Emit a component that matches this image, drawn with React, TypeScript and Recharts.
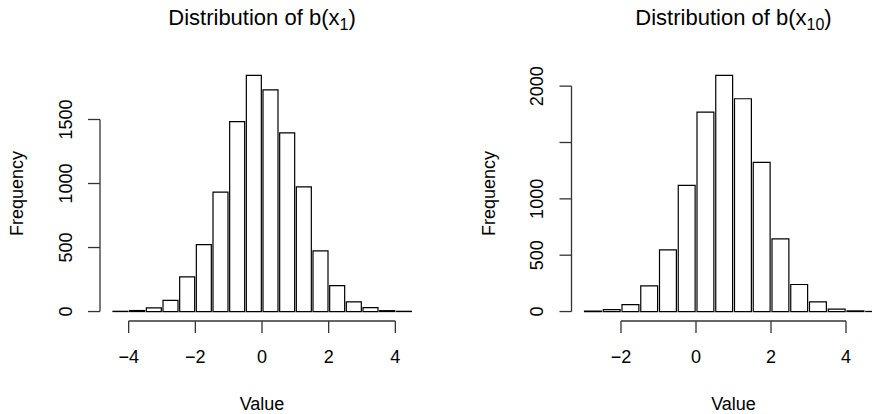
import { BarChart, Bar, XAxis, YAxis, ReferenceLine } from 'recharts'

// R 风格的直方图：白底黑框的柱子，坐标轴只画到首尾刻度
const FONT = '"Liberation Sans", Arial, Helvetica, sans-serif'

// 左图：b(x1) 的分布，每个柱子是 0.5 宽的桶，值是桶的左端点
const x1Bins = [-4.5, -4, -3.5, -3, -2.5, -2, -1.5, -1, -0.5, 0, 0.5, 1, 1.5, 2, 2.5, 3, 3.5, 4]
const x1Counts = [2, 8, 29, 88, 271, 523, 932, 1484, 1844, 1732, 1396, 974, 474, 203, 76, 31, 7, 2]
const x1XTicks = [-4, -2, 0, 2, 4]
const x1YTicks = [0, 500, 1000, 1500]
const x1YLabels = ['0', '500', '1000', '1500']

// 右图：b(x10) 的分布（1500 的刻度标签在 R 里被挤掉了；最右一个桶被图片边缘裁掉）
const x10Bins = [-3, -2.5, -2, -1.5, -1, -0.5, 0, 0.5, 1, 1.5, 2, 2.5, 3, 3.5, 4, 4.5]
const x10Counts = [4, 18, 62, 228, 547, 1119, 1769, 2095, 1888, 1323, 645, 240, 86, 21, 6, 1]
const x10XTicks = [-2, 0, 2, 4]
const x10YTicks = [0, 500, 1000, 1500, 2000]
const x10YLabels = ['0', '500', '1000', '', '2000']

const CHART_H = 414
const PLOT_TOP = 66
const XAXIS_H = 93
const TICK = 12

// R 用的是真正的减号
const fmt = (v: number) => String(v).replace('-', '\u2212')

interface HistProps {
  bins: number[]
  counts: number[]
  xTicks: number[]
  yTicks: number[]
  yLabels: string[]
  sub: string
  left: number
  width: number
  axisW: number
  rightGap: number
}

function Histogram({ bins, counts, xTicks, yTicks, yLabels, sub, left, width, axisW, rightGap }: HistProps) {
  const step = bins[1] - bins[0]
  const lo = bins[0]
  const hi = bins[bins.length - 1] + step
  // R 默认把坐标范围两边各扩 4%
  const padU = (hi - lo) * 0.04
  const xDomain: [number, number] = [lo - padU, hi + padU]
  const top = Math.max(...counts)
  const yDomain: [number, number] = [-top * 0.04, top * 1.04]
  const plotW = width - axisW - rightGap
  const pxPerUnit = plotW / (xDomain[1] - xDomain[0])
  const barW = step * pxPerUnit
  const plotH = CHART_H - PLOT_TOP - XAXIS_H
  const cx = axisW + plotW / 2

  // 柱子画在桶中点上，宽度正好一个桶
  const data = bins.map((b, i) => ({ mid: b + step / 2, count: counts[i] }))

  const XTick = (p: any) => (
    <text x={p.x} y={p.y} dy={30} textAnchor="middle" fontSize={18} fontFamily={FONT} fill="#000">
      {fmt(p.payload.value)}
    </text>
  )
  const YTick = (p: any) => {
    const idx = yTicks.indexOf(p.payload.value)
    return (
      <text x={p.x} y={p.y} transform={`rotate(-90 ${p.x} ${p.y})`} textAnchor="middle" fontSize={18} fontFamily={FONT} fill="#000">
        {yLabels[idx]}
      </text>
    )
  }

  return (
    <div style={{ position: 'absolute', left, top: 0 }}>
      <BarChart
        width={width}
        height={CHART_H}
        data={data}
        margin={{ top: PLOT_TOP, right: rightGap, bottom: 0, left: 0 }}
        barCategoryGap={0}
        barGap={0}
      >
        <XAxis
          dataKey="mid"
          type="number"
          domain={xDomain}
          allowDataOverflow
          ticks={xTicks}
          height={XAXIS_H}
          axisLine={false}
          tickSize={TICK}
          tickMargin={0}
          tickLine={{ stroke: '#333', strokeWidth: 1.3 }}
          tick={XTick}
        />
        <YAxis
          type="number"
          domain={yDomain}
          allowDataOverflow
          ticks={yTicks}
          width={axisW}
          axisLine={false}
          tickSize={TICK}
          tickMargin={16}
          tickLine={{ stroke: '#333', strokeWidth: 1.3 }}
          tick={YTick}
        />
        <Bar dataKey="count" fill="#fff" stroke="#000" strokeWidth={1.2} barSize={barW} isAnimationActive={false} />
        {/* 坐标轴线只连首尾刻度，和 R 一样 */}
        <ReferenceLine
          ifOverflow="visible"
          stroke="#333"
          strokeWidth={1.3}
          segment={[{ x: xDomain[0], y: yTicks[0] }, { x: xDomain[0], y: yTicks[yTicks.length - 1] }]}
        />
        <ReferenceLine
          ifOverflow="visible"
          stroke="#333"
          strokeWidth={1.3}
          segment={[{ x: xTicks[0], y: yDomain[0] }, { x: xTicks[xTicks.length - 1], y: yDomain[0] }]}
        />
        <text x={cx} y={25} textAnchor="middle" fontSize={22} fontFamily={FONT} fill="#000">
          Distribution of b(x<tspan fontSize={16} dy={5}>{sub}</tspan><tspan dy={-5}>)</tspan>
        </text>
        <text
          x={axisW - 77}
          y={PLOT_TOP + plotH / 2}
          transform={`rotate(-90 ${axisW - 77} ${PLOT_TOP + plotH / 2})`}
          textAnchor="middle"
          fontSize={18}
          fontFamily={FONT}
          fill="#000"
        >
          Frequency
        </text>
        <text x={cx} y={410} textAnchor="middle" fontSize={18} fontFamily={FONT} fill="#000">
          Value
        </text>
      </BarChart>
    </div>
  )
}

export default function App() {
  return (
    <div style={{ position: 'absolute', left: 0, top: 0, width: 872, height: 414, overflow: 'hidden', background: '#fff' }}>
      <Histogram bins={x1Bins} counts={x1Counts} xTicks={x1XTicks} yTicks={x1YTicks} yLabels={x1YLabels} sub="1" left={0} width={436} axisW={100} rightGap={12} />
      <Histogram bins={x10Bins} counts={x10Counts} xTicks={x10XTicks} yTicks={x10YTicks} yLabels={x10YLabels} sub="10" left={436} width={472} axisW={135.5} rightGap={12.5} />
    </div>
  )
}
